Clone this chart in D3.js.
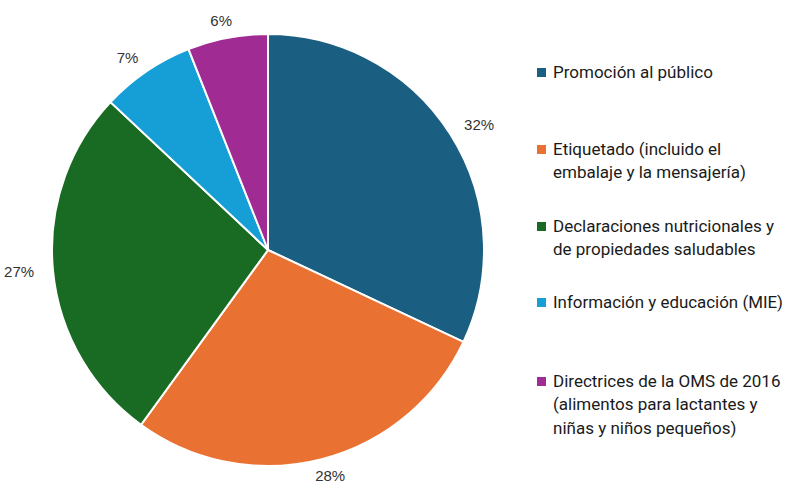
<!DOCTYPE html>
<html>
<head>
<meta charset="utf-8">
<script src="https://cdn.jsdelivr.net/npm/d3@7"></script>
<style>
  body { margin: 0; background: #fff; }
</style>
</head>
<body>
<div id="chart"></div>
<script>
const categories = [
  'Promoción al público',
  'Etiquetado (incluido el embalaje y la mensajería)',
  'Declaraciones nutricionales y de propiedades saludables',
  'Información y educación (MIE)',
  'Directrices de la OMS de 2016 (alimentos para lactantes y niñas y niños pequeños)'
]
const values = [32, 28, 27, 7, 6]
const legendLines = [
  ['Promoción al público'],
  ['Etiquetado (incluido el', 'embalaje y la mensajería)'],
  ['Declaraciones nutricionales y', 'de propiedades saludables'],
  ['Información y educación (MIE)'],
  ['Directrices de la OMS de 2016', '(alimentos para lactantes y', 'niñas y niños pequeños)']
]
const colors = ['#1a5f81', '#e97132', '#196b24', '#169fd6', '#a02b93']

const width = 786
const height = 484
const cx = 268
const cy = 250
const radius = 216

const svg = d3
  .select('#chart')
  .append('svg')
  .attr('width', width)
  .attr('height', height)

const color = d3.scaleOrdinal().domain(categories).range(colors)

const pie = d3.pie().sort(null).value(d => d.value)
const data = categories.map((c, i) => ({ name: c, value: values[i] }))
const arcs = pie(data)

const arc = d3.arc().innerRadius(0).outerRadius(radius)

const g = svg.append('g').attr('transform', 'translate(' + cx + ',' + cy + ')')

g.selectAll('path')
  .data(arcs)
  .enter()
  .append('path')
  .attr('d', arc)
  .attr('fill', d => color(d.data.name))
  .attr('stroke', '#fff')
  .attr('stroke-width', 2)

// labels sit just outside the pie, a bit further out sideways (wider text)
g.selectAll('.label')
  .data(arcs)
  .enter()
  .append('text')
  .attr('class', 'label')
  .attr('x', d => 250 * Math.sin((d.startAngle + d.endAngle) / 2))
  .attr('y', d => -233 * Math.cos((d.startAngle + d.endAngle) / 2))
  .attr('text-anchor', 'middle')
  .attr('dy', '0.35em')
  .attr('font-family', 'Liberation Sans, Arial, sans-serif')
  .attr('font-size', 15)
  .attr('fill', '#333')
  .text(d => d.data.value + '%')

// legend
const legendY = [72, 149, 226, 302, 381]
const legend = svg.append('g')

const items = legend
  .selectAll('g')
  .data(categories)
  .enter()
  .append('g')
  .attr('transform', (d, i) => 'translate(537,' + legendY[i] + ')')

items
  .append('rect')
  .attr('x', 0)
  .attr('y', -4)
  .attr('width', 9)
  .attr('height', 9)
  .attr('fill', d => color(d))

items
  .append('text')
  .attr('font-family', 'Roboto, sans-serif')
  .attr('font-size', 17)
  .attr('fill', '#1a1a1a')
  .selectAll('tspan')
  .data((d, i) => legendLines[i])
  .enter()
  .append('tspan')
  .attr('x', 16)
  .attr('y', (d, j) => j * 23.3)
  .attr('dy', '0.35em')
  .text(d => d)

// keep the widest legend lines inside the window
items.selectAll('tspan').each(function() {
  const w = this.getComputedTextLength()
  if (w > 230) {
    d3.select(this).attr('textLength', 230).attr('lengthAdjust', 'spacingAndGlyphs')
  }
})
</script>
</body>
</html>
